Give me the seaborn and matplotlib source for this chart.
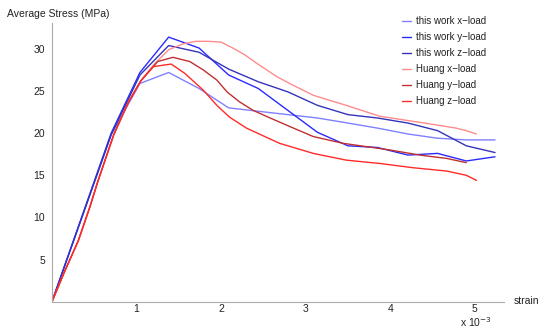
import pandas as pd
import matplotlib
matplotlib.use("Agg")
import matplotlib.pyplot as plt
import seaborn as sns

# -------------------------------
# Data (strain in units of 1e-3, stress in MPa)
# -------------------------------
tw_x = [0, 0.35, 0.7, 1.04, 1.38, 1.74, 2.09, 2.44, 2.79, 3.14, 3.5, 3.85, 4.21, 4.56, 4.9, 5.24]
tw_xload = [0, 9.9, 19.8, 25.9, 27.2, 25.3, 23.0, 22.6, 22.2, 21.8, 21.2, 20.6, 19.9, 19.4, 19.2, 19.2]
tw_yload = [0, 10.0, 20.0, 27.2, 31.4, 30.1, 26.9, 25.3, 22.7, 20.1, 18.5, 18.3, 17.4, 17.6, 16.7, 17.2]
tw_zload = [0, 9.9, 19.8, 26.9, 30.4, 29.6, 27.6, 26.1, 24.9, 23.3, 22.2, 21.8, 21.2, 20.3, 18.5, 17.7]

hx_x = [0, 0.15, 0.31, 0.45, 0.54, 0.73, 0.9, 1.05, 1.2, 1.38, 1.55, 1.7, 1.85, 2.0,
        2.14, 2.28, 2.42, 2.66, 2.81, 3.09, 3.48, 3.88, 4.21, 4.47, 4.78, 4.9, 5.02]
hx_y = [0, 3.6, 7.2, 11.3, 14.2, 19.8, 23.6, 26.2, 28.1, 29.9, 30.6, 30.9, 30.9, 30.8,
        30.1, 29.3, 28.3, 26.7, 25.9, 24.5, 23.3, 22.0, 21.5, 21.1, 20.6, 20.3, 19.9]

hy_x = [0, 0.15, 0.31, 0.45, 0.54, 0.73, 0.9, 1.05, 1.25, 1.43, 1.63, 1.79, 1.95, 2.07,
        2.22, 2.38, 2.58, 2.81, 3.09, 3.44, 3.72, 4.0, 4.35, 4.67, 4.9]
hy_y = [0, 3.6, 7.2, 11.3, 14.2, 19.8, 23.6, 26.2, 28.5, 29.0, 28.5, 27.5, 26.3, 24.9,
        23.7, 22.7, 21.8, 20.8, 19.6, 18.8, 18.4, 18.0, 17.4, 17.0, 16.5]

hz_x = [0, 0.15, 0.31, 0.45, 0.54, 0.73, 0.9, 1.05, 1.2, 1.41, 1.57, 1.79, 1.95, 2.1,
        2.3, 2.69, 3.09, 3.48, 3.88, 4.27, 4.67, 4.9, 5.02]
hz_y = [0, 3.6, 7.2, 11.3, 14.2, 19.8, 23.6, 26.2, 27.9, 28.2, 27.1, 25.1, 23.3, 21.9,
        20.6, 18.8, 17.6, 16.8, 16.4, 15.9, 15.5, 15.0, 14.4]

labels = ["this work x\u2212load", "this work y\u2212load", "this work z\u2212load",
          "Huang x\u2212load", "Huang y\u2212load", "Huang z\u2212load"]
colors = ["#8080ff", "#2a2aff", "#3434bb", "#ff8c8c", "#bf3030", "#ff2a2a"]

series = [(tw_x, tw_xload), (tw_x, tw_yload), (tw_x, tw_zload),
          (hx_x, hx_y), (hy_x, hy_y), (hz_x, hz_y)]

rows = []
for lab, (xs, ys) in zip(labels, series):
    for x, y in zip(xs, ys):
        rows.append({"strain": x, "stress": y, "series": lab})
df = pd.DataFrame(rows)

# -------------------------------
# Plot
# -------------------------------
sns.set_style("white")
plt.rcParams['font.family'] = ['Liberation Sans', 'DejaVu Sans']

fig = plt.figure(figsize=(5.5, 3.35), dpi=100)
ax = fig.add_axes([0.0945, 0.0994, 0.8225, 0.8326])

sns.lineplot(data=df, x="strain", y="stress", hue="series", hue_order=labels,
             palette=colors, sort=False, estimator=None, units="series",
             linewidth=1.0, ax=ax)

ax.set_xlim(0, 5.35)
ax.set_ylim(0, 33.1)
ax.set_xticks([1, 2, 3, 4, 5])
ax.set_yticks([5, 10, 15, 20, 25, 30])
ax.set_xlabel("")
ax.set_ylabel("")

for s in ["top", "right"]:
    ax.spines[s].set_visible(False)
for s in ["left", "bottom"]:
    ax.spines[s].set_color("#aaaaaa")
    ax.spines[s].set_linewidth(0.8)
ax.tick_params(axis="both", colors="#aaaaaa", labelcolor="#222222",
               labelsize=7.5, width=0.8)
ax.tick_params(axis="y", pad=2, length=3, direction="out")
ax.tick_params(axis="x", pad=2, length=2.5, direction="in")

fig.text(7 / 550, 1 - 14 / 335, "Average Stress (MPa)", fontsize=7.5,
         color="#222222", va="center", ha="left")
fig.text(514 / 550, 1 - 301 / 335, "strain", fontsize=7.5, color="#222222",
         va="center", ha="left")
fig.text(476 / 550, 1 - 315 / 335, r"x 10$^{-3}$", fontsize=7.5, color="#222222",
         va="top", ha="center")

ax.legend(loc="upper left", bbox_to_anchor=(402 / 550, 1 - 16 / 335),
          bbox_transform=fig.transFigure, frameon=False,
          fontsize=7, handlelength=0.9, handletextpad=0.5, labelspacing=0.62,
          borderaxespad=0, borderpad=0, labelcolor="#222222")

fig.savefig("out.png", dpi=100)
